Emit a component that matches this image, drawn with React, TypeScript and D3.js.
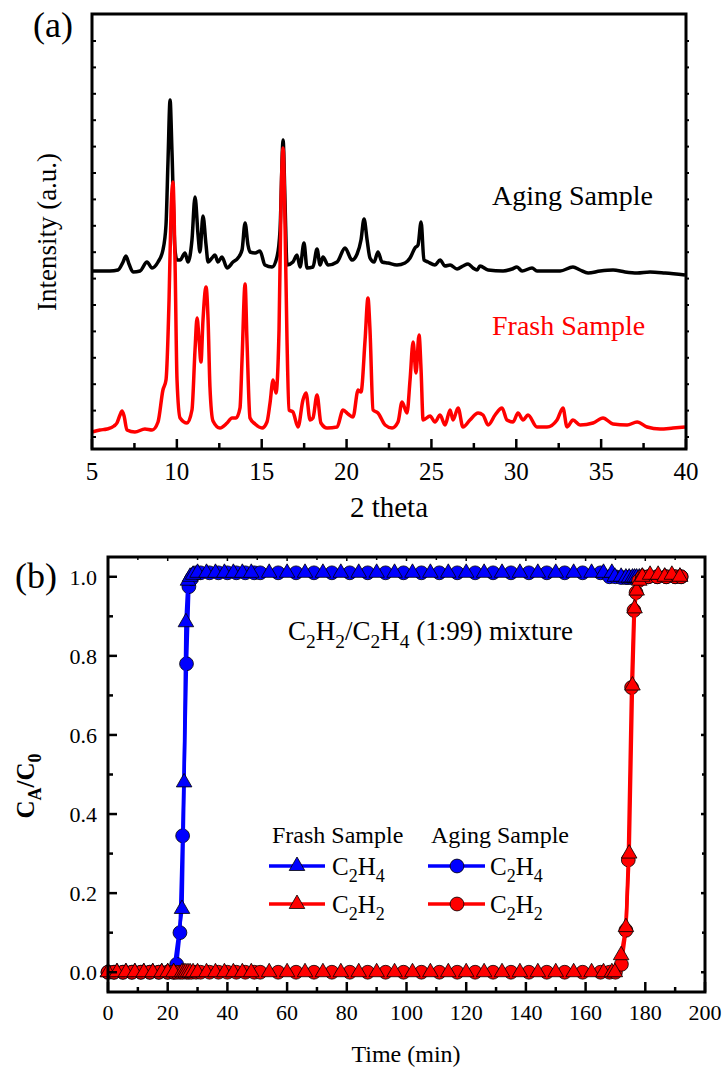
import React from 'react';
import * as d3 from 'd3';

const FONT = 'Liberation Serif, Times New Roman, Times, serif';

// ---------- Panel (a): XRD patterns ----------
const agingTheta = [5.00, 6.06, 6.53, 6.83, 7.00, 7.18, 7.42, 7.83, 8.24, 8.54,
  8.89, 9.18, 9.36, 9.48, 9.60, 9.71, 9.89, 10.01, 10.19, 10.48,
  10.66, 10.89, 11.07, 11.25, 11.36, 11.54, 11.72, 11.84, 12.07, 12.25,
  12.42, 12.66, 12.96, 13.31, 13.60, 13.84, 14.02, 14.19, 14.31, 14.61,
  14.90, 15.19, 15.61, 15.90, 16.08, 16.26, 16.37, 16.49, 16.84, 17.08,
  17.26, 17.49, 17.67, 18.02, 18.26, 18.44, 18.61, 18.91, 19.44, 19.91,
  20.32, 20.62, 20.85, 21.03, 21.21, 21.38, 21.62, 21.85, 22.09, 22.44,
  22.97, 23.44, 23.74, 24.03, 24.21, 24.39, 24.56, 24.80, 25.21, 25.51,
  25.80, 26.10, 26.51, 26.86, 27.16, 27.45, 27.69, 27.86, 28.34, 29.22,
  29.75, 30.04, 30.34, 30.93, 31.22, 31.99, 32.58, 33.34, 33.76, 34.23,
  34.94, 35.70, 36.41, 37.12, 37.88, 38.77, 39.94];
const agingIntensity = [166, 166, 167, 175, 181, 173, 165, 166, 175, 169,
  175, 187, 212, 277, 337, 287, 187, 177, 177, 184,
  175, 197, 240, 202, 185, 221, 192, 175, 179, 182,
  175, 180, 169, 175, 179, 187, 214, 192, 185, 184,
  186, 172, 170, 180, 207, 297, 237, 172, 175, 182,
  170, 194, 169, 170, 188, 172, 180, 172, 175, 189,
  177, 183, 197, 218, 197, 179, 175, 185, 175, 174,
  172, 174, 179, 189, 192, 215, 177, 175, 172, 177,
  171, 172, 168, 171, 173, 169, 167, 171, 167, 166,
  168, 170, 166, 169, 166, 166, 166, 170, 167, 164,
  166, 167, 165, 164, 165, 164, 162];

const frashTheta = [5.00, 5.47, 5.88, 6.30, 6.47, 6.65, 6.77, 6.89, 7.06, 7.53,
  8.12, 8.54, 8.89, 9.18, 9.36, 9.54, 9.66, 9.77, 9.89, 10.01,
  10.19, 10.60, 10.89, 11.07, 11.19, 11.31, 11.42, 11.54, 11.72, 11.84,
  11.95, 12.13, 12.54, 12.96, 13.25, 13.49, 13.72, 13.84, 14.02, 14.13,
  14.31, 14.61, 15.02, 15.31, 15.49, 15.67, 15.84, 16.02, 16.14, 16.26,
  16.37, 16.49, 16.61, 16.84, 17.14, 17.43, 17.61, 17.85, 18.02, 18.26,
  18.49, 18.85, 19.44, 19.79, 20.09, 20.38, 20.68, 20.85, 21.09, 21.26,
  21.38, 21.56, 21.85, 22.27, 22.68, 23.03, 23.27, 23.56, 23.74, 23.92,
  24.09, 24.27, 24.39, 24.51, 24.92, 25.21, 25.51, 25.80, 26.10, 26.27,
  26.57, 26.86, 27.27, 27.75, 28.04, 28.34, 28.75, 29.16, 29.45, 29.81,
  30.10, 30.40, 30.69, 31.22, 31.81, 32.40, 32.75, 32.99, 33.34, 33.76,
  34.52, 35.11, 35.70, 36.53, 37.12, 37.71, 38.47, 39.24, 39.94];
const frashIntensity = [5, 7, 8, 11, 14, 22, 26, 21, 7, 5,
  8, 7, 15, 47, 57, 137, 227, 255, 177, 57,
  19, 14, 27, 87, 119, 97, 75, 117, 150, 117,
  50, 16, 9, 14, 19, 19, 29, 77, 153, 97,
  19, 13, 9, 15, 34, 57, 44, 107, 237, 289,
  217, 97, 27, 25, 10, 37, 44, 17, 19, 42,
  14, 9, 10, 27, 23, 20, 47, 45, 97, 139,
  107, 27, 24, 12, 9, 15, 35, 24, 57, 95,
  64, 102, 67, 17, 21, 15, 22, 12, 27, 17,
  29, 10, 17, 24, 22, 12, 22, 29, 17, 15,
  24, 17, 22, 10, 10, 17, 29, 10, 17, 12,
  14, 19, 13, 12, 15, 10, 8, 9, 10];

const thetaTicks = [5, 10, 15, 20, 25, 30, 35, 40];
const thetaMinorTicks = [7.5, 12.5, 17.5, 22.5, 27.5, 32.5, 37.5];

// ---------- Panel (b): breakthrough curves ----------
const frashTime = [0, 3, 6, 9, 12, 15, 18, 20, 22,
  24.8, 25.5, 26.1, 26.8, 27.5, 28.5,
  30, 33, 36, 39, 42, 45, 48,
  54, 60, 66, 72, 78, 84, 90, 96, 102, 108, 114, 120, 126, 132, 138, 144, 150, 156, 162,
  166, 168.8, 169.8,
  171.9, 173.5, 174.6, 175.7, 176.4, 177.1, 178, 179,
  181.6, 184.3, 186.5, 188.9, 191.6];
const frashC2H4 = [0, 0, 0, 0, 0, 0, 0, 0, 0,
  0.16, 0.48, 0.885, 0.99, 1.0, 1.005,
  1.01, 1.01, 1.01, 1.01, 1.01, 1.01, 1.01,
  1.01, 1.01, 1.01, 1.01, 1.01, 1.01, 1.01, 1.01, 1.01, 1.01, 1.01, 1.01, 1.01, 1.01, 1.01, 1.01, 1.01, 1.01, 1.01,
  1.01, 1.01, 1.0,
  1.0, 0.998, 0.998, 0.998, 0.998, 0.998, 0.998, 1.0,
  1.0, 1.0, 1.0, 1.0, 1.0];
const frashC2H2 = [0, 0, 0, 0, 0, 0, 0, 0, 0,
  0, 0, 0, 0, 0, 0,
  0, 0, 0, 0, 0, 0, 0,
  0, 0, 0, 0, 0, 0, 0, 0, 0, 0, 0, 0, 0, 0, 0, 0, 0, 0, 0,
  0, 0, 0,
  0.043, 0.114, 0.30, 0.725, 0.92, 0.965, 0.99, 1.0,
  1.005, 1.005, 1.0, 1.005, 1.0];

const agingTime = [0, 2, 5, 8, 11, 14, 17, 20, 22,
  23, 24.1, 25, 26.3, 27.1, 28,
  29.5, 31, 34, 37, 40, 43, 46, 49,
  51, 57, 63, 69, 75, 81, 87, 93, 99, 105, 111, 117, 123, 129, 135, 141, 147, 153, 159, 165,
  168, 170,
  172, 173.5, 174.3, 175.4, 176.2, 176.9, 177.8, 179,
  181, 184, 187, 190, 192];
const agingC2H4 = [0, 0, 0, 0, 0, 0, 0, 0, 0,
  0.02, 0.1, 0.345, 0.78, 0.975, 0.995,
  1.01, 1.01, 1.01, 1.01, 1.01, 1.01, 1.01, 1.01,
  1.01, 1.01, 1.01, 1.01, 1.01, 1.01, 1.01, 1.01, 1.01, 1.01, 1.01, 1.01, 1.01, 1.01, 1.01, 1.01, 1.01, 1.01, 1.01, 1.01,
  1.0, 1.0,
  0.998, 0.998, 0.998, 0.998, 0.998, 0.998, 0.998, 1.0,
  1.0, 1.0, 1.0, 1.0, 1.0];
const agingC2H2 = [0, 0, 0, 0, 0, 0, 0, 0, 0,
  0, 0, 0, 0, 0, 0,
  0, 0, 0, 0, 0, 0, 0, 0,
  0, 0, 0, 0, 0, 0, 0, 0, 0, 0, 0, 0, 0, 0, 0, 0, 0, 0, 0, 0,
  0, 0,
  0.02, 0.106, 0.284, 0.72, 0.915, 0.96, 0.99, 1.0,
  1.0, 1.0, 1.0, 1.0, 1.0];

const timeTicks = [0, 20, 40, 60, 80, 100, 120, 140, 160, 180, 200];
const timeMinorTicks = [10, 30, 50, 70, 90, 110, 130, 150, 170, 190];
const ratioTicks = [0, 0.2, 0.4, 0.6, 0.8, 1.0];
const ratioMinorTicks = [0.1, 0.3, 0.5, 0.7, 0.9];

// ---------- helpers ----------
function parseChem(s: string) {
  const segs: { t: string; sub: boolean }[] = [];
  let buf = '';
  for (let i = 0; i < s.length; i++) {
    if (s[i] === '_') {
      if (buf) segs.push({ t: buf, sub: false });
      buf = '';
      segs.push({ t: s[i + 1], sub: true });
      i++;
    } else buf += s[i];
  }
  if (buf) segs.push({ t: buf, sub: false });
  return segs;
}

function ChemText(props: any) {
  const { x, y, text, fs, anchor = 'start', weight = 'normal', transform, fill = '#000' } = props;
  const segs = parseChem(text);
  const shift = fs * 0.28;
  let cur = 0;
  const spans = segs.map((s, i) => {
    const target = s.sub ? shift : 0;
    const dy = target - cur;
    cur = target;
    return (
      <tspan key={i} dy={dy} fontSize={s.sub ? fs * 0.72 : fs}>
        {s.t}
      </tspan>
    );
  });
  return (
    <text x={x} y={y} fontSize={fs} textAnchor={anchor} fontWeight={weight}
      transform={transform} fill={fill} style={{ fontFamily: FONT }}>
      {spans}
    </text>
  );
}

const triPath = d3.symbol().type(d3.symbolTriangle).size(105)() as string;
const circPath = d3.symbol().type(d3.symbolCircle).size(150)() as string;

export default function App() {
  // panel a scales
  const xA = d3.scaleLinear().domain([5, 40]).range([92, 686]);
  const yA = d3.scaleLinear().domain([-12, 423]).range([449, 14]);
  const agingPath = d3.line<number>()
    .x((_, i) => xA(agingTheta[i]))
    .y((d) => yA(d))
    .curve(d3.curveMonotoneX)(agingIntensity) as string;
  const frashPath = d3.line<number>()
    .x((_, i) => xA(frashTheta[i]))
    .y((d) => yA(d))
    .curve(d3.curveMonotoneX)(frashIntensity) as string;
  const yATicks = d3.range(0, 400, 26.4);

  // panel b scales
  const xB = d3.scaleLinear().domain([0, 200]).range([108, 705]);
  const yB = d3.scaleLinear().domain([-0.05, 1.05]).range([992, 557]);
  const mkPath = (ts: number[], vs: number[]) =>
    d3.line<number>().x((_, i) => xB(ts[i])).y((d) => yB(d))(vs) as string;

  const series = [
    { t: agingTime, v: agingC2H4, color: '#0000ff', shape: 'circle' },
    { t: frashTime, v: frashC2H4, color: '#0000ff', shape: 'tri' },
    { t: agingTime, v: agingC2H2, color: '#ff0000', shape: 'circle' },
    { t: frashTime, v: frashC2H2, color: '#ff0000', shape: 'tri' },
  ];

  const axisStroke = 2.5;

  return (
    <svg width={723} height={1068} style={{ position: 'absolute', left: 0, top: 0, background: '#fff', fontFamily: FONT }}>
      <rect x={0} y={0} width={723} height={1068} fill="#fff" />

      {/* ===== Panel (a) ===== */}
      <text x={33} y={37} fontSize={36}>(a)</text>
      <path d={agingPath} fill="none" stroke="#000" strokeWidth={3.5} strokeLinejoin="round" />
      <path d={frashPath} fill="none" stroke="#ff0000" strokeWidth={3.5} strokeLinejoin="round" />
      {thetaTicks.map((t) => (
        <g key={'ta' + t}>
          <line x1={xA(t)} x2={xA(t)} y1={449} y2={439} stroke="#000" strokeWidth={axisStroke} />
          <text x={xA(t)} y={480} fontSize={25} textAnchor="middle">{t}</text>
        </g>
      ))}
      {thetaMinorTicks.map((t) => (
        <line key={'tma' + t} x1={xA(t)} x2={xA(t)} y1={449} y2={443} stroke="#000" strokeWidth={axisStroke} />
      ))}
      {yATicks.map((v, i) => (
        <g key={'ya' + i}>
          <line x1={92} x2={96} y1={yA(v)} y2={yA(v)} stroke="#000" strokeWidth={2} />
          <line x1={686} x2={689} y1={yA(v)} y2={yA(v)} stroke="#000" strokeWidth={2} />
        </g>
      ))}
      <rect x={92} y={14} width={594} height={435} fill="none" stroke="#000" strokeWidth={3} />
      <text x={389} y={517} fontSize={29} textAnchor="middle">2 theta</text>
      <text x={56} y={232} fontSize={27} textAnchor="middle" transform="rotate(-90, 56, 232)">Intensity (a.u.)</text>
      <text x={492} y={205} fontSize={28} fill="#000">Aging Sample</text>
      <text x={492} y={335} fontSize={28} fill="#ff0000">Frash Sample</text>

      {/* ===== Panel (b) ===== */}
      <text x={15} y={588} fontSize={36}>(b)</text>
      {series.map((s, si) => (
        <g key={'s' + si}>
          <path d={mkPath(s.t, s.v)} fill="none" stroke={s.color} strokeWidth={3.5} strokeLinejoin="round" />
          {s.v.map((v, i) => (
            <path key={i} d={s.shape === 'tri' ? triPath : circPath}
              transform={`translate(${xB(s.t[i])},${yB(v)})`}
              fill={s.color} stroke="#000" strokeWidth={0.8} />
          ))}
        </g>
      ))}
      {timeTicks.map((t) => (
        <g key={'tb' + t}>
          <line x1={xB(t)} x2={xB(t)} y1={992} y2={982} stroke="#000" strokeWidth={axisStroke} />
          <line x1={xB(t)} x2={xB(t)} y1={557} y2={561} stroke="#000" strokeWidth={1.5} />
          <text x={xB(t)} y={1020} fontSize={22} textAnchor="middle">{t}</text>
        </g>
      ))}
      {timeMinorTicks.map((t) => (
        <g key={'tmb' + t}>
          <line x1={xB(t)} x2={xB(t)} y1={992} y2={987} stroke="#000" strokeWidth={axisStroke} />
          <line x1={xB(t)} x2={xB(t)} y1={557} y2={560} stroke="#000" strokeWidth={1.5} />
        </g>
      ))}
      {ratioTicks.map((v) => (
        <g key={'rb' + v}>
          <line x1={108} x2={117} y1={yB(v)} y2={yB(v)} stroke="#000" strokeWidth={axisStroke} />
          <line x1={705} x2={701} y1={yB(v)} y2={yB(v)} stroke="#000" strokeWidth={axisStroke} />
          <text x={97} y={yB(v) + 8} fontSize={22} textAnchor="end">{v.toFixed(1)}</text>
        </g>
      ))}
      {ratioMinorTicks.map((v) => (
        <g key={'rmb' + v}>
          <line x1={108} x2={113} y1={yB(v)} y2={yB(v)} stroke="#000" strokeWidth={axisStroke} />
          <line x1={705} x2={702} y1={yB(v)} y2={yB(v)} stroke="#000" strokeWidth={axisStroke} />
        </g>
      ))}
      <rect x={108} y={557} width={597} height={435} fill="none" stroke="#000" strokeWidth={3} />
      <text x={406} y={1062} fontSize={24} textAnchor="middle">Time (min)</text>
      <ChemText x={34} y={786} fs={25} weight="bold" anchor="middle" text="C_A/C_0"
        transform="rotate(-90, 34, 786)" />
      <ChemText x={288} y={640} fs={27} text="C_2H_2/C_2H_4 (1:99) mixture" />

      {/* legend */}
      <text x={272} y={843} fontSize={24}>Frash Sample</text>
      <text x={431} y={843} fontSize={24}>Aging Sample</text>
      <line x1={269} x2={325} y1={866} y2={866} stroke="#0000ff" strokeWidth={3.5} />
      <path d={triPath} transform="translate(297,866)" fill="#0000ff" stroke="#000" strokeWidth={0.8} />
      <ChemText x={332} y={875} fs={25} text="C_2H_4" />
      <line x1={269} x2={325} y1={904} y2={904} stroke="#ff0000" strokeWidth={3.5} />
      <path d={triPath} transform="translate(297,904)" fill="#ff0000" stroke="#000" strokeWidth={0.8} />
      <ChemText x={332} y={913} fs={25} text="C_2H_2" />
      <line x1={428} x2={485} y1={866} y2={866} stroke="#0000ff" strokeWidth={3.5} />
      <path d={circPath} transform="translate(457,866)" fill="#0000ff" stroke="#000" strokeWidth={0.8} />
      <ChemText x={490} y={875} fs={25} text="C_2H_4" />
      <line x1={428} x2={485} y1={904} y2={904} stroke="#ff0000" strokeWidth={3.5} />
      <path d={circPath} transform="translate(457,904)" fill="#ff0000" stroke="#000" strokeWidth={0.8} />
      <ChemText x={490} y={913} fs={25} text="C_2H_2" />
    </svg>
  );
}
